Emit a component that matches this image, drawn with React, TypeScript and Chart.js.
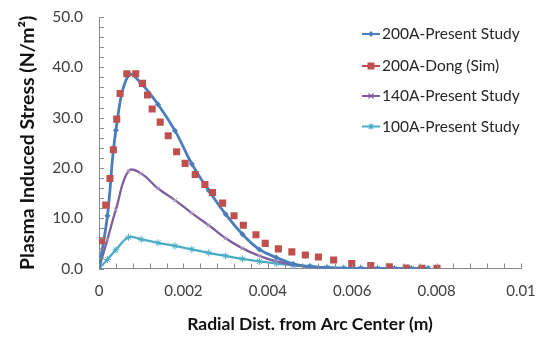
import React, { useEffect, useRef } from "react";
import { Chart, registerables } from "chart.js";
Chart.register(...registerables);

// ---- Data ----
const radialDist = [0, 0.0002, 0.0004, 0.0007, 0.001, 0.0014, 0.0018, 0.0022, 0.0026, 0.003, 0.0034, 0.0038, 0.0042, 0.0046, 0.005, 0.0054, 0.0058, 0.0062, 0.0066, 0.007, 0.0074, 0.0078];
const stress200Present = [0, 10.5, 27.5, 38.5, 36.8, 32.6, 27.4, 20.8, 15.5, 10.8, 6.8, 3.8, 2.2, 0.9, 0.4, 0.15, 0, 0, 0, 0, 0, 0];
const stress140Present = [0, 5.8, 11.7, 19.4, 18.9, 15.9, 13.6, 11.0, 8.6, 6.0, 4.0, 2.5, 1.4, 0.7, 0.3, 0.1, 0, 0, 0, 0, 0, 0];
const stress100Present = [0, 1.8, 3.7, 6.2, 5.8, 5.1, 4.5, 3.8, 3.1, 2.5, 1.9, 1.4, 1.0, 0.65, 0.4, 0.2, 0.1, 0.05, 0, 0, 0, 0];

const dongDist = [0.00006, 0.00016, 0.00026, 0.00034, 0.00042, 0.0005, 0.00066, 0.00087, 0.00103, 0.00115, 0.00126, 0.00145, 0.00164, 0.00184, 0.00204, 0.00228, 0.00251, 0.00269, 0.00293, 0.0032, 0.00342, 0.00372, 0.00394, 0.00425, 0.00457, 0.00489, 0.0052, 0.00556, 0.00599, 0.00644, 0.00688, 0.00728, 0.00765, 0.00801];
const dongStress = [5.5, 12.6, 17.9, 23.6, 29.7, 34.8, 38.7, 38.7, 36.8, 34.5, 31.7, 29.1, 26.4, 23.2, 20.9, 18.7, 16.7, 15.1, 13.0, 10.5, 8.6, 6.7, 5.0, 3.9, 3.3, 2.7, 2.3, 1.7, 1.0, 0.6, 0.35, 0.1, 0.05, 0.05];

const seriesLabels = ["200A-Present Study", "200A-Dong (Sim)", "140A-Present Study", "100A-Present Study"];
const xTickValues = [0, 0.002, 0.004, 0.006, 0.008, 0.01];
const xTickLabels = ["0", "0.002", "0.004", "0.006", "0.008", "0.01"];
const yTickValues = [0, 10, 20, 30, 40, 50];
const yTickLabels = ["0.0", "10.0", "20.0", "30.0", "40.0", "50.0"];
const xTitle = "Radial Dist. from Arc Center (m)";
const yTitle = "Plasma Induced Stress (N/m\u00B2)";

const BLUE = "#4a7ebb";
const RED = "#c0504d";
const PURPLE = "#7d5fa0";
const CYAN = "#4bacc6";
const AXIS = "#8a8a8a";
const FONT = "Lato, 'Open Sans', sans-serif";

function drawMarker(ctx: CanvasRenderingContext2D, style: string, x: number, y: number, color: string) {
  ctx.save();
  ctx.fillStyle = color;
  ctx.strokeStyle = color;
  ctx.lineWidth = 1.2;
  ctx.beginPath();
  if (style === "rectRot") {
    ctx.moveTo(x, y - 3); ctx.lineTo(x + 3, y); ctx.lineTo(x, y + 3); ctx.lineTo(x - 3, y); ctx.closePath(); ctx.fill();
  } else if (style === "rect") {
    ctx.rect(x - 3.5, y - 3.5, 7, 7); ctx.fill();
  } else if (style === "crossRot") {
    ctx.moveTo(x - 2.5, y - 2.5); ctx.lineTo(x + 2.5, y + 2.5); ctx.moveTo(x + 2.5, y - 2.5); ctx.lineTo(x - 2.5, y + 2.5); ctx.stroke();
  } else if (style === "star") {
    ctx.moveTo(x - 3, y); ctx.lineTo(x + 3, y); ctx.moveTo(x, y - 3); ctx.lineTo(x, y + 3);
    ctx.moveTo(x - 2.2, y - 2.2); ctx.lineTo(x + 2.2, y + 2.2); ctx.moveTo(x + 2.2, y - 2.2); ctx.lineTo(x - 2.2, y + 2.2); ctx.stroke();
  }
  ctx.restore();
}

const legendStyles = ["rectRot", "rect", "crossRot", "star"];
const legendColors = [BLUE, RED, PURPLE, CYAN];

const customLegend = {
  id: "customLegend",
  afterDraw(chart: any) {
    const ctx: CanvasRenderingContext2D = chart.ctx;
    const x0 = 362, x1 = 380, tx = 382;
    const ys = [34, 66, 96, 126.5];
    ctx.save();
    seriesLabels.forEach((label, i) => {
      const y = ys[i];
      ctx.strokeStyle = legendColors[i];
      ctx.lineWidth = 2;
      ctx.beginPath(); ctx.moveTo(x0, y); ctx.lineTo(x1, y); ctx.stroke();
      drawMarker(ctx, legendStyles[i], (x0 + x1) / 2, y, legendColors[i]);
      ctx.fillStyle = "#262626";
      ctx.font = "15.5px " + FONT;
      ctx.textBaseline = "middle";
      ctx.textAlign = "left";
      ctx.fillText(label, tx, y);
    });
    ctx.restore();
  },
};

const minorTicks = {
  id: "minorTicks",
  afterDraw(chart: any) {
    const ctx: CanvasRenderingContext2D = chart.ctx;
    const xs = chart.scales.x, ys = chart.scales.y;
    ctx.save();
    ctx.strokeStyle = AXIS;
    ctx.lineWidth = 1;
    ctx.beginPath();
    for (let k = 0; k <= 25; k++) {
      const px = Math.round(xs.getPixelForValue(k * 0.0004)) + 0.5;
      ctx.moveTo(px, ys.bottom); ctx.lineTo(px, ys.bottom - 5);
    }
    for (let k = 0; k <= 25; k++) {
      const py = Math.round(ys.getPixelForValue(k * 2)) + 0.5;
      ctx.moveTo(xs.left, py); ctx.lineTo(xs.left + 5, py);
    }
    ctx.stroke();
    ctx.restore();
  },
};

export default function App() {
  const ref = useRef<HTMLCanvasElement | null>(null);
  useEffect(() => {
    document.body.style.margin = "0";
    const canvas = ref.current!;
    const toPts = (xs: number[], ys: number[]) => xs.map((x, i) => ({ x, y: ys[i] }));
    const chart = new Chart(canvas, {
      type: "line",
      data: {
        datasets: [
          {
            label: seriesLabels[0],
            data: toPts(radialDist, stress200Present),
            borderColor: BLUE,
            backgroundColor: BLUE,
            borderWidth: 2.8,
            pointStyle: "rectRot",
            pointRadius: 3,
            pointBorderWidth: 0,
            tension: 0.4,
            order: 1,
          },
          {
            label: seriesLabels[1],
            data: toPts(dongDist, dongStress),
            borderColor: RED,
            backgroundColor: RED,
            showLine: false,
            pointStyle: "rect",
            pointRadius: 5,
            pointBorderWidth: 0,
            order: 0,
          },
          {
            label: seriesLabels[2],
            data: toPts(radialDist, stress140Present),
            borderColor: PURPLE,
            backgroundColor: PURPLE,
            borderWidth: 2.3,
            pointStyle: "crossRot",
            pointRadius: 3,
            pointBorderWidth: 1,
            pointBorderColor: "#b3a4cc",
            tension: 0.4,
            order: 2,
          },
          {
            label: seriesLabels[3],
            data: toPts(radialDist, stress100Present),
            borderColor: CYAN,
            backgroundColor: CYAN,
            borderWidth: 2.3,
            pointStyle: "star",
            pointRadius: 3.5,
            pointBorderWidth: 1,
            tension: 0.4,
            order: 3,
          },
        ],
      },
      options: {
        responsive: false,
        animation: false,
        layout: { padding: { left: 0, top: 17, right: 16, bottom: 0 } },
        plugins: { legend: { display: false }, tooltip: { enabled: false } },
        scales: {
          x: {
            type: "linear",
            min: 0,
            max: 0.01,
            afterBuildTicks: (s: any) => { s.ticks = xTickValues.map((v) => ({ value: v })); },
            afterFit: (s: any) => { s.height = 68.5; s.paddingLeft = 0; s.paddingRight = 0; },
            ticks: {
              callback: (v: any) => { const i = xTickValues.findIndex((t) => Math.abs(t - v) < 1e-9); return i >= 0 ? xTickLabels[i] : ""; },
              font: { family: FONT, size: 15 },
              color: "#404040",
              padding: 14,
              maxRotation: 0,
            },
            grid: { display: true, drawOnChartArea: false, drawTicks: false },
            border: { display: true, color: AXIS, width: 1 },
            title: { display: true, text: xTitle, font: { family: FONT, size: 17.5, weight: "bold" }, color: "#111", padding: { top: 0, bottom: 2 } },
          },
          y: {
            type: "linear",
            min: 0,
            max: 50,
            afterBuildTicks: (s: any) => { s.ticks = yTickValues.map((v) => ({ value: v })); },
            afterFit: (s: any) => { s.width = 99; s.paddingTop = 0; s.paddingBottom = 0; },
            ticks: {
              callback: (v: any) => { const i = yTickValues.indexOf(v); return i >= 0 ? yTickLabels[i] : ""; },
              font: { family: FONT, size: 15.5 },
              color: "#404040",
              padding: 16,
            },
            grid: { display: true, drawOnChartArea: false, drawTicks: false },
            border: { display: true, color: AXIS, width: 1 },
            title: { display: true, text: yTitle, font: { family: FONT, size: 19.5, weight: "bold" }, color: "#111", padding: { top: 16, bottom: 0 } },
          },
        },
      },
      plugins: [minorTicks, customLegend],
    } as any);
    return () => chart.destroy();
  }, []);
  return (
    <div style={{ width: 537, height: 337, background: "#fff" }}>
      <canvas ref={ref} width={537} height={337} style={{ display: "block" }} />
    </div>
  );
}
